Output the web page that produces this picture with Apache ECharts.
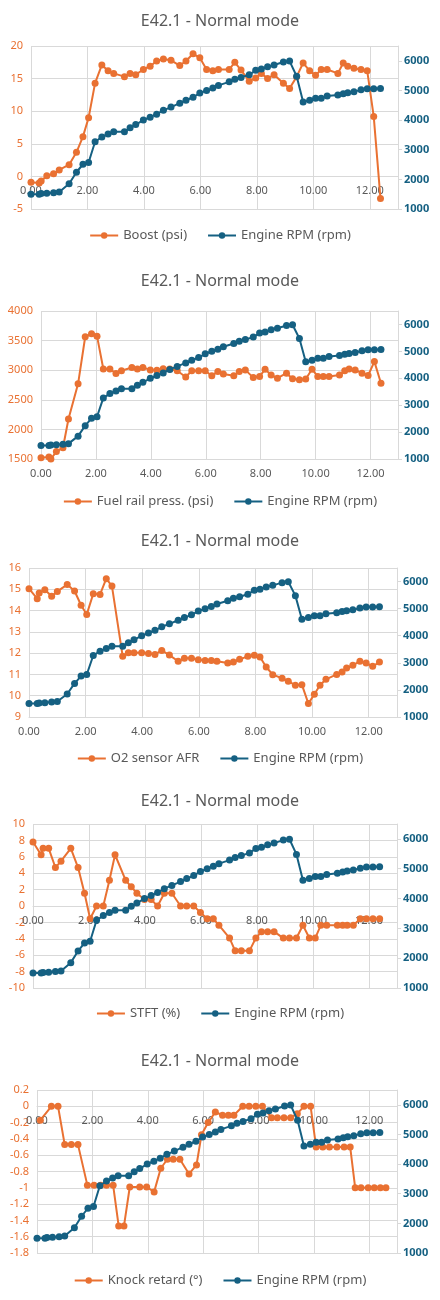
<!DOCTYPE html>
<html>
<head>
    <meta charset="utf-8">
    <style type="text/css">
        *, html, body {
            margin: 0;
            padding: 0;
        }
        body {
            width: 440px;
            background: #fff;
        }
        .chart {
            width: 440px;
            height: 260px;
        }
    </style>
    <script type="text/javascript" src="https://cdn.jsdelivr.net/npm/echarts@6/dist/echarts.min.js"></script>
</head>
<body>
<div class="chart" id="c1"></div>
<div class="chart" id="c2"></div>
<div class="chart" id="c3"></div>
<div class="chart" id="c4"></div>
<div class="chart" id="c5"></div>
<script type="text/javascript">
    // time stamps (s) shared by rpm, boost, fuel rail, afr, stft
    let timeS = [0.00, 0.29, 0.36, 0.56, 0.80, 1.00, 1.35, 1.61, 1.84, 2.04, 2.27, 2.51, 2.73, 2.93,
        3.31, 3.51, 3.71, 3.98, 4.22, 4.45, 4.69, 4.96, 5.27, 5.49, 5.74, 5.98, 6.22, 6.44, 6.64,
        7.02, 7.22, 7.44, 7.73, 7.96, 8.16, 8.38, 8.61, 8.94, 9.16, 9.41, 9.64, 9.87, 10.08, 10.28,
        10.49, 10.87, 11.06, 11.22, 11.44, 11.69, 11.91, 12.14, 12.38];
    // knock retard has its own time stamps
    let knockTimeS = [0.12, 0.52, 0.76, 1.00, 1.24, 1.48, 1.82, 2.06, 2.30, 2.51, 2.75, 2.95, 3.14,
        3.35, 3.71, 3.96, 4.23, 4.47, 4.71, 4.92, 5.16, 5.49, 5.76, 5.94, 6.18, 6.44, 6.70, 6.91,
        7.11, 7.43, 7.66, 7.90, 8.14, 8.47, 8.68, 8.92, 9.16, 9.40, 9.64, 9.88, 10.08, 10.32, 10.56,
        10.83, 11.09, 11.31, 11.49, 11.70, 11.96, 12.18, 12.40, 12.60];

    let rpm = [1500, 1500, 1520, 1530, 1550, 1570, 1850, 2240, 2510, 2570, 3270, 3430, 3530, 3610,
        3610, 3740, 3850, 4000, 4100, 4200, 4330, 4440, 4570, 4670, 4770, 4910, 5000, 5080, 5170,
        5290, 5380, 5440, 5530, 5680, 5720, 5800, 5860, 5960, 5990, 5480, 4610, 4670, 4740, 4740,
        4810, 4850, 4890, 4920, 4960, 5020, 5060, 5060, 5070];
    let boost = [-0.9, -1.0, -0.7, 0.1, 0.4, 1.0, 1.8, 3.7, 6.1, 9.0, 14.3, 17.1, 16.2, 15.8,
        15.3, 15.8, 15.6, 16.4, 16.9, 17.7, 18.0, 17.8, 17.0, 17.7, 18.8, 18.2, 16.4, 16.2, 16.4,
        16.4, 17.5, 16.3, 14.6, 15.1, 15.8, 15.0, 15.6, 14.3, 13.5, 15.3, 17.4, 16.2, 15.5, 16.4,
        16.4, 15.8, 17.4, 16.9, 16.6, 16.4, 16.2, 9.2, -3.4];
    let fuelRail = [1520, 1535, 1500, 1625, 1690, 2175, 2770, 3565, 3615, 3575, 3020, 3020, 2945,
        2990, 3045, 3020, 3045, 3005, 3000, 3025, 3020, 2990, 2885, 2990, 2990, 2990, 2905, 2980,
        2935, 2905, 2980, 3005, 2875, 2895, 3015, 2920, 2865, 2950, 2855, 2840, 2850, 3015, 2895,
        2895, 2895, 2920, 2990, 3020, 3005, 2950, 2910, 3145, 2780];
    let afr = [15.03, 14.56, 14.83, 14.98, 14.67, 14.90, 15.22, 14.92, 14.25, 13.82, 14.79, 14.76,
        15.50, 15.15, 11.85, 12.02, 12.02, 12.02, 11.98, 11.94, 12.13, 11.91, 11.62, 11.76, 11.76,
        11.69, 11.66, 11.66, 11.62, 11.54, 11.58, 11.71, 11.85, 11.90, 11.82, 11.35, 10.99, 10.82,
        10.68, 10.49, 10.52, 9.63, 10.07, 10.49, 10.77, 11.00, 11.11, 11.30, 11.43, 11.62, 11.54,
        11.38, 11.58];
    let stft = [7.81, 6.25, 7.03, 7.03, 4.69, 5.47, 7.03, 4.69, 1.56, -1.56, 0, 0, 3.13, 6.25,
        3.13, 2.34, 1.56, 0.78, 0.78, 0, 1.56, 1.56, 0, 0, 0, -0.78, -1.56, -1.56, -2.34, -3.91,
        -5.47, -5.47, -5.47, -3.91, -3.13, -3.13, -3.13, -3.91, -3.91, -3.91, -2.34, -3.91, -3.91,
        -2.34, -2.34, -2.34, -2.34, -2.34, -2.34, -1.56, -1.56, -1.56, -1.56];
    let knock = [-0.17, 0, 0, -0.47, -0.47, -0.47, -0.97, -0.97, -0.97, -0.97, -0.97, -1.47, -1.47,
        -0.99, -0.99, -0.99, -1.05, -0.76, -0.65, -0.65, -0.65, -0.83, -0.72, -0.35, -0.2, -0.07,
        -0.11, -0.11, -0.11, 0, 0, 0, 0, -0.14, -0.14, -0.14, -0.14, -0.09, 0, 0, -0.5, -0.5, -0.5,
        -0.5, -0.5, -0.5, -1.0, -1.0, -1.0, -1.0, -1.0, -1.0];

    let xTicks = [0, 2, 4, 6, 8, 10, 12];
    let rpmTicks = [1000, 2000, 3000, 4000, 5000, 6000];

    let ORANGE = '#E97132';
    let BLUE = '#156082';
    let GRID = '#D9D9D9';
    let TEXT = '#595959';
    let FONT = 'Noto Sans';

    function pairs(xs, ys) {
        return ys.map(function (v, i) { return [xs[i], v]; });
    }

    function makeChart(id, cfg) {
        let chart = echarts.init(document.getElementById(id), null, {renderer: 'canvas'});
        // excel puts the x axis on the y=0 line when 0 is in range
        let xOffset = 0;
        if (cfg.yMin < 0 && cfg.yMax > 0) {
            xOffset = -cfg.height * (0 - cfg.yMin) / (cfg.yMax - cfg.yMin);
        }
        let option = {
            animation: false,
            textStyle: {fontFamily: FONT},
            title: {
                text: 'E42.1 - Normal mode',
                left: 'center',
                top: 8,
                textStyle: {fontFamily: FONT, fontSize: 16, fontWeight: 'normal', color: TEXT}
            },
            legend: {
                top: cfg.legendTop,
                left: 'center',
                itemWidth: 28,
                itemHeight: 8,
                itemGap: 20,
                textStyle: {fontFamily: FONT, fontSize: 13, color: TEXT},
                data: [cfg.name, 'Engine RPM (rpm)']
            },
            grid: {left: cfg.left, right: cfg.right, top: cfg.top, height: cfg.height},
            xAxis: {
                type: 'value',
                min: 0,
                max: 13,
                interval: 2,
                offset: xOffset,
                z: 0,
                axisLine: {show: true, onZero: false, lineStyle: {color: GRID, width: 1}},
                axisTick: {show: false},
                splitLine: {show: true, lineStyle: {color: GRID, width: 1}},
                axisLabel: {
                    color: TEXT, fontSize: 11, fontFamily: FONT, margin: 9,
                    customValues: xTicks,
                    formatter: function (v) { return v.toFixed(2); }
                }
            },
            yAxis: [{
                type: 'value',
                min: cfg.yMin,
                max: cfg.yMax,
                interval: cfg.yStep,
                axisLine: {show: false, onZero: false},
                axisTick: {show: false},
                splitLine: {show: true, lineStyle: {color: GRID, width: 1}},
                axisLabel: {
                    color: ORANGE, fontSize: 11, fontFamily: FONT, margin: 8,
                    formatter: function (v) { return String(Math.round(v * 10) / 10); }
                }
            }, {
                type: 'value',
                min: 1000,
                max: 6500,
                interval: 500,
                axisLine: {show: true, onZero: false, lineStyle: {color: GRID, width: 1}},
                axisTick: {show: true, length: 4, customValues: rpmTicks, lineStyle: {color: GRID}},
                splitLine: {show: false},
                axisLabel: {
                    color: BLUE, fontSize: 11, fontWeight: 'bold', fontFamily: FONT, margin: 6,
                    customValues: rpmTicks,
                    formatter: function (v) { return String(v); }
                }
            }],
            series: [{
                name: cfg.name,
                type: 'line',
                yAxisIndex: 0,
                z: 3,
                data: pairs(cfg.xs || timeS, cfg.values),
                symbol: 'circle',
                symbolSize: 7,
                color: ORANGE,
                lineStyle: {width: 2, color: ORANGE},
                itemStyle: {color: ORANGE}
            }, {
                name: 'Engine RPM (rpm)',
                type: 'line',
                yAxisIndex: 1,
                z: 4,
                data: pairs(timeS, rpm),
                symbol: 'circle',
                symbolSize: 7,
                color: BLUE,
                lineStyle: {width: 2, color: BLUE},
                itemStyle: {color: BLUE}
            }]
        };
        chart.setOption(option);
        return chart;
    }

    makeChart('c1', {name: 'Boost (psi)', values: boost, yMin: -5, yMax: 20, yStep: 5,
        left: 31, right: 42, top: 46, height: 163, legendTop: 224});
    makeChart('c2', {name: 'Fuel rail press. (psi)', values: fuelRail, yMin: 1500, yMax: 4000, yStep: 500,
        left: 41, right: 42, top: 51, height: 148, legendTop: 230});
    makeChart('c3', {name: 'O2 sensor AFR', values: afr, yMin: 9, yMax: 16, yStep: 1,
        left: 29, right: 43, top: 48, height: 149, legendTop: 227});
    makeChart('c4', {name: 'STFT (%)', values: stft, yMin: -10, yMax: 10, yStep: 2,
        left: 33, right: 43, top: 44, height: 164, legendTop: 222});
    makeChart('c5', {name: 'Knock retard (°)', values: knock, xs: knockTimeS, yMin: -1.8, yMax: 0.2, yStep: 0.2,
        left: 37, right: 43, top: 50, height: 163, legendTop: 229});
</script>
</body>
</html>
